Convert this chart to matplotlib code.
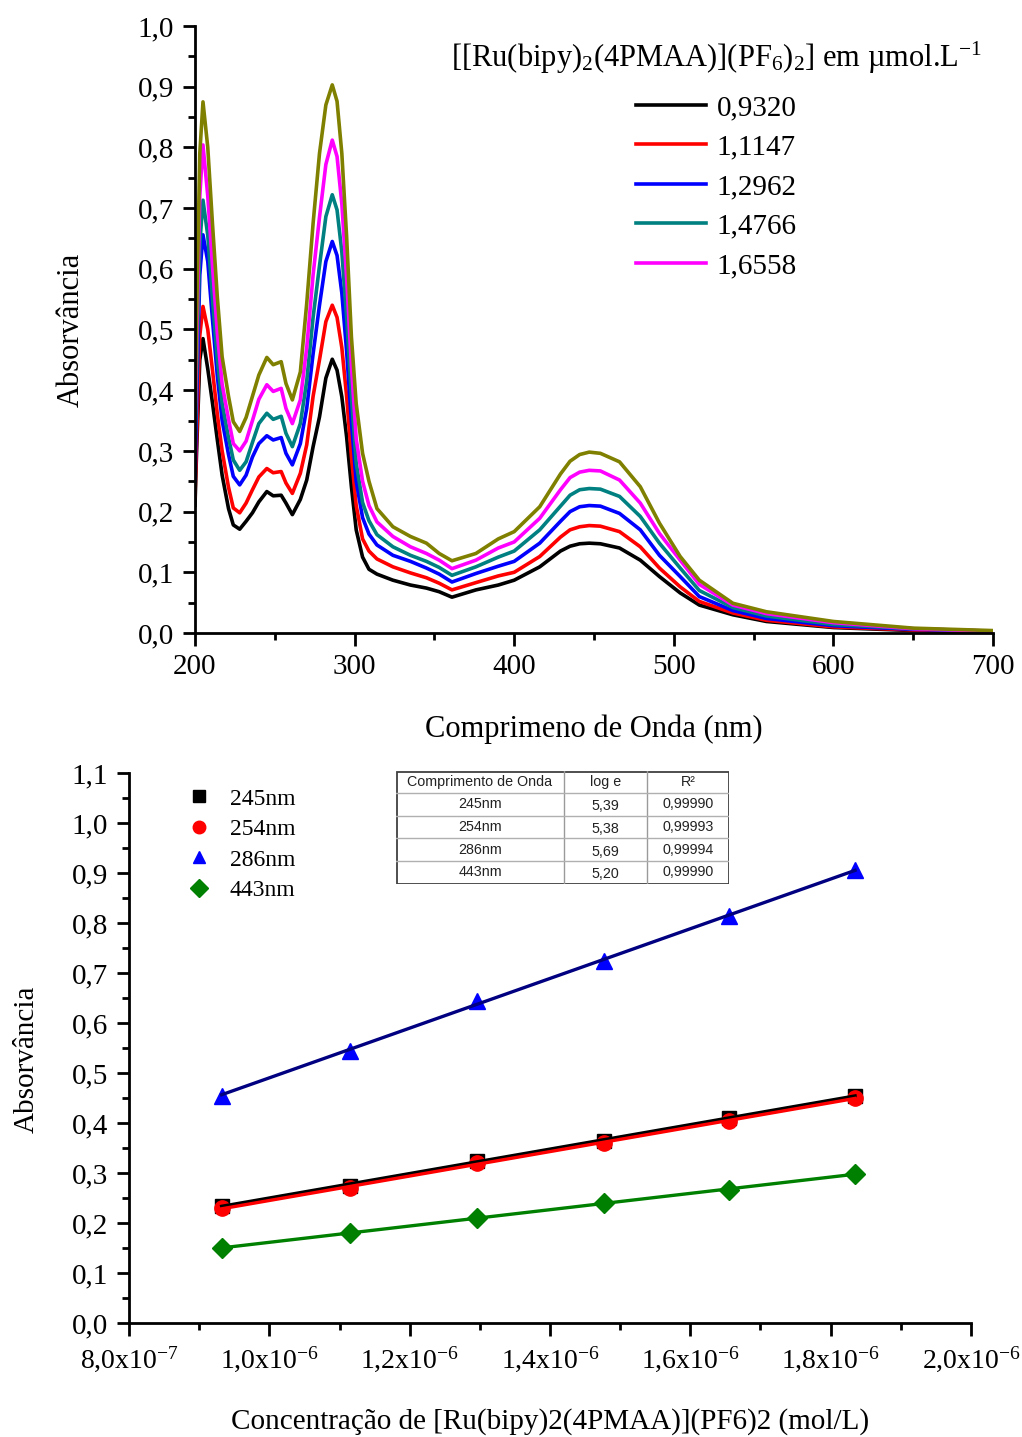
import numpy as np
import matplotlib
matplotlib.use("Agg")
import matplotlib.pyplot as plt
from matplotlib.ticker import MultipleLocator, FuncFormatter
from matplotlib.lines import Line2D

plt.rcParams.update({
    "font.family": ["Liberation Serif", "DejaVu Serif"],
    "mathtext.fontset": "custom",
    "mathtext.rm": "Liberation Serif",
    "mathtext.it": "Liberation Serif:italic",
    "mathtext.default": "regular",
})

# ---- top panel: UV-vis spectra ----
wavelength = [200, 201, 203, 205, 208, 211, 214, 217, 221, 224, 228, 232, 236, 240, 245,
              249, 254, 257, 261, 266, 270, 274, 278, 282, 286, 289, 292, 295, 298, 301,
              305, 309, 314, 324, 335, 345, 353, 361, 376, 390, 400, 416, 429, 435, 441,
              447, 454, 466, 479, 491, 504, 516, 537, 558, 600, 650, 700]

abs_0932 = [0.21, 0.30, 0.45, 0.485, 0.435, 0.378, 0.318, 0.26, 0.205, 0.178, 0.171, 0.184,
            0.198, 0.216, 0.233, 0.226, 0.227, 0.214, 0.195, 0.22, 0.252, 0.307, 0.356, 0.42,
            0.451, 0.433, 0.389, 0.323, 0.241, 0.17, 0.125, 0.105, 0.097, 0.087, 0.079, 0.074,
            0.068, 0.059, 0.071, 0.079, 0.087, 0.109, 0.135, 0.143, 0.147, 0.148, 0.147, 0.14,
            0.12, 0.093, 0.066, 0.046, 0.03, 0.019, 0.009, 0.004, 0.002]
abs_11147 = [0.225, 0.32, 0.49, 0.538, 0.5, 0.432, 0.36, 0.3, 0.24, 0.206, 0.198, 0.214,
             0.236, 0.257, 0.271, 0.264, 0.266, 0.247, 0.23, 0.263, 0.31, 0.39, 0.45, 0.513,
             0.54, 0.52, 0.47, 0.39, 0.29, 0.21, 0.155, 0.135, 0.122, 0.109, 0.099, 0.091,
             0.082, 0.071, 0.083, 0.094, 0.1, 0.126, 0.158, 0.17, 0.175, 0.177, 0.176, 0.167,
             0.142, 0.107, 0.076, 0.052, 0.033, 0.021, 0.01, 0.005, 0.002]
abs_12962 = [0.25, 0.38, 0.59, 0.656, 0.612, 0.515, 0.423, 0.35, 0.294, 0.258, 0.244, 0.26,
             0.29, 0.312, 0.325, 0.318, 0.322, 0.296, 0.277, 0.312, 0.37, 0.46, 0.54, 0.612,
             0.645, 0.622, 0.56, 0.464, 0.348, 0.25, 0.19, 0.163, 0.145, 0.128, 0.118, 0.107,
             0.097, 0.084, 0.098, 0.11, 0.118, 0.148, 0.184, 0.2, 0.208, 0.21, 0.209, 0.197,
             0.17, 0.128, 0.093, 0.06, 0.037, 0.024, 0.012, 0.006, 0.003]
abs_14766 = [0.3, 0.42, 0.64, 0.713, 0.655, 0.548, 0.45, 0.378, 0.322, 0.285, 0.268, 0.282,
             0.314, 0.345, 0.362, 0.352, 0.357, 0.329, 0.307, 0.345, 0.415, 0.52, 0.605, 0.686,
             0.722, 0.697, 0.628, 0.52, 0.39, 0.28, 0.215, 0.185, 0.162, 0.142, 0.128, 0.118,
             0.108, 0.095, 0.109, 0.125, 0.135, 0.17, 0.209, 0.227, 0.236, 0.238, 0.237, 0.225,
             0.192, 0.148, 0.107, 0.07, 0.042, 0.028, 0.014, 0.007, 0.003]
abs_16558 = [0.34, 0.47, 0.72, 0.804, 0.72, 0.603, 0.494, 0.41, 0.352, 0.312, 0.3, 0.316,
             0.35, 0.385, 0.409, 0.398, 0.403, 0.37, 0.345, 0.384, 0.47, 0.59, 0.685, 0.772,
             0.812, 0.785, 0.707, 0.585, 0.44, 0.32, 0.25, 0.21, 0.183, 0.159, 0.142, 0.131,
             0.12, 0.106, 0.12, 0.14, 0.15, 0.189, 0.236, 0.256, 0.265, 0.268, 0.267, 0.252,
             0.214, 0.164, 0.12, 0.08, 0.046, 0.032, 0.017, 0.007, 0.003]
abs_18348 = [0.36, 0.52, 0.79, 0.875, 0.8, 0.672, 0.553, 0.455, 0.39, 0.348, 0.332, 0.355,
             0.39, 0.425, 0.454, 0.442, 0.447, 0.411, 0.384, 0.43, 0.543, 0.675, 0.79, 0.87,
             0.903, 0.876, 0.79, 0.653, 0.488, 0.378, 0.296, 0.25, 0.205, 0.175, 0.159, 0.148,
             0.131, 0.119, 0.131, 0.155, 0.167, 0.208, 0.262, 0.283, 0.294, 0.298, 0.296, 0.282,
             0.241, 0.181, 0.126, 0.087, 0.049, 0.035, 0.019, 0.008, 0.004]

spectra = [abs_0932, abs_11147, abs_12962, abs_14766, abs_16558, abs_18348]
spectra_labels = ["0,9320", "1,1147", "1,2962", "1,4766", "1,6558", None]
spectra_colors = ["#000000", "#ff0000", "#0000ff", "#008080", "#ff00ff", "#808000"]

# ---- bottom panel: calibration ----
conc = [0.932e-6, 1.1147e-6, 1.2962e-6, 1.4766e-6, 1.6558e-6, 1.8348e-6]
a245 = [0.235, 0.275, 0.325, 0.365, 0.41, 0.455]
a254 = [0.23, 0.27, 0.32, 0.36, 0.405, 0.45]
a286 = [0.455, 0.545, 0.645, 0.725, 0.815, 0.905]
a443 = [0.15, 0.18, 0.21, 0.24, 0.267, 0.298]

series_names = ["245nm", "254nm", "286nm", "443nm"]
table_header = ["Comprimento de Onda", "log e", "R²"]
table_loge = ["5,39", "5,38", "5,69", "5,20"]
table_r2 = ["0,99990", "0,99993", "0,99994", "0,99990"]

W, H = 1022, 1437
fig = plt.figure(figsize=(W / 100, H / 100), dpi=100)


def px_axes(x0, y0, x1, y1):
    return fig.add_axes([x0 / W, 1 - y1 / H, (x1 - x0) / W, (y1 - y0) / H])


def style_axes(ax):
    for s in ["top", "right"]:
        ax.spines[s].set_visible(False)
    for s in ["left", "bottom"]:
        ax.spines[s].set_linewidth(2.0)
    ax.tick_params(which="major", direction="out", length=9, width=2, labelsize=21, pad=6)
    ax.tick_params(which="minor", direction="out", length=5, width=2)


comma = FuncFormatter(lambda v, p: f"{v:.1f}".replace(".", ","))

# top axes
ax1 = px_axes(195, 26, 993, 633)
for y, c, lab in zip(spectra, spectra_colors, spectra_labels):
    ax1.plot(wavelength, y, color=c, lw=2.6, solid_joinstyle="round",
             label=lab if lab else "_nolegend_")
ax1.set_xlim(200, 700)
ax1.set_ylim(0, 1.0)
ax1.xaxis.set_major_locator(MultipleLocator(100))
ax1.xaxis.set_minor_locator(MultipleLocator(50))
ax1.yaxis.set_major_locator(MultipleLocator(0.1))
ax1.yaxis.set_minor_locator(MultipleLocator(0.05))
ax1.yaxis.set_major_formatter(comma)
style_axes(ax1)
ax1.set_xlabel("Comprimeno de Onda (nm)", fontsize=22)
ax1.set_ylabel("Absorvância", fontsize=22)
ax1.xaxis.set_label_coords(0.5, -0.135)
ax1.yaxis.set_label_coords(-0.137, 0.5)
ax1.text(0.654, 0.947, "[[Ru(bipy)$_2$(4PMAA)](PF$_6$)$_2$] em µmol.L$^{-1}$",
         transform=ax1.transAxes, ha="center", va="center", fontsize=22)
ax1.legend(loc="upper center", bbox_to_anchor=(0.6535, 0.911), frameon=False,
           fontsize=21, handlelength=2.4, handletextpad=0.35, labelspacing=0.45,
           borderpad=0.0)

# bottom axes
ax2 = px_axes(129, 773, 971, 1323)
markers = ["s", "o", "^", "D"]
mcolors = ["#000000", "#ff0000", "#0000ff", "#008000"]
lcolors = ["#000000", "#ff0000", "#000080", "#008000"]
msizes = [10, 11, 11, 10]
for yv, m, mc, lc, ms in zip([a245, a254, a286, a443], markers, mcolors, lcolors, msizes):
    ax2.plot(conc, yv, ls="none", marker=m, color=mc, ms=ms, zorder=3)
    k, b = np.polyfit(conc, yv, 1)
    xs = np.array([conc[0], conc[-1]])
    ax2.plot(xs, k * xs + b, color=lc, lw=2.4, zorder=4)
ax2.set_xlim(8e-7, 2e-6)
ax2.set_ylim(0, 1.1)
ax2.xaxis.set_major_locator(MultipleLocator(2e-7))
ax2.xaxis.set_minor_locator(MultipleLocator(1e-7))
ax2.yaxis.set_major_locator(MultipleLocator(0.1))
ax2.yaxis.set_minor_locator(MultipleLocator(0.05))
ax2.yaxis.set_major_formatter(comma)


def sci_fmt(v, p):
    if v <= 0:
        return ""
    e = int(np.floor(np.log10(v) + 1e-9))
    m = v / 10 ** e
    return f"{m:.1f}".replace(".", ",") + "x10$^{" + str(e) + "}$"


ax2.xaxis.set_major_formatter(FuncFormatter(sci_fmt))
style_axes(ax2)
ax2.tick_params(axis="x", labelsize=20)
ax2.set_xlabel("Concentração de [Ru(bipy)2(4PMAA)](PF6)2 (mol/L)", fontsize=21)
ax2.set_ylabel("Absorvância", fontsize=21)
ax2.xaxis.set_label_coords(0.5, -0.155)
ax2.yaxis.set_label_coords(-0.106, 0.48)

handles = [Line2D([], [], ls="none", marker=m, color=c, ms=9) for m, c in zip(markers, mcolors)]
ax2.legend(handles, series_names, loc="upper left", bbox_to_anchor=(0.055, 0.994),
           frameon=False, fontsize=17, handlelength=1.0, handletextpad=0.8,
           labelspacing=0.38, borderpad=0.0)

# table
tx0, ty0, tx1, ty1 = 396, 771, 729, 884
axt = px_axes(tx0, ty0, tx1, ty1)
axt.set_xlim(tx0, tx1)
axt.set_ylim(ty1, ty0)
axt.axis("off")
col_edges = [396, 564, 647, 729]
row_edges = [771, 793, 816, 838, 861, 884]
for xe in col_edges[1:-1]:
    axt.plot([xe, xe], [ty0, ty1], color="#9a9a9a", lw=1)
for ye in row_edges[1:-1]:
    axt.plot([tx0, tx1], [ye, ye], color="#b0b0b0", lw=1)
axt.add_patch(plt.Rectangle((tx0 + 0.5, ty0 + 0.5), tx1 - tx0 - 1, ty1 - ty0 - 1,
                            fill=False, ec="#404040", lw=1.3))
rows = [table_header] + [[n, l, r] for n, l, r in zip(series_names, table_loge, table_r2)]
for i, row in enumerate(rows):
    yc = (row_edges[i] + row_edges[i + 1]) / 2
    for j, txt in enumerate(row):
        xc = (col_edges[j] + col_edges[j + 1]) / 2
        dy = 2 if (i > 0 and j == 1) else 0
        axt.text(xc, yc + dy, txt, ha="center", va="center", fontsize=10.3,
                 family=["Liberation Sans", "DejaVu Sans"], color="#222222")

fig.savefig("out.png", dpi=100, facecolor="white")
